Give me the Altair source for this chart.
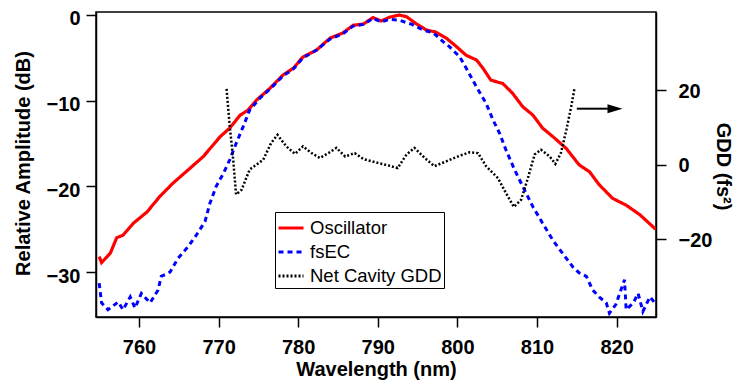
import altair as alt
import pandas as pd

# ---- data ----
osc_wl = [755.0, 755.3, 756.4, 757.2, 758.0, 759.3, 761.0, 762.6, 764.3, 766.4,
          768.1, 770.2, 771.4, 772.7, 773.7, 774.8, 776.4, 778.1, 779.4, 780.6,
          782.3, 784.0, 785.6, 786.9, 788.2, 789.4, 790.4, 791.5, 792.7, 793.6,
          794.8, 796.1, 797.3, 798.6, 799.9, 801.1, 802.4, 803.2, 804.2, 805.7,
          806.9, 808.2, 809.5, 810.7, 812.0, 813.7, 815.3, 816.6, 817.8, 819.5,
          821.2, 822.9, 824.9]
osc_db = [-28.2, -28.9, -27.8, -26.0, -25.7, -24.3, -23.0, -21.2, -19.6, -17.9,
          -16.5, -14.2, -13.2, -11.7, -11.1, -9.9, -8.6, -7.0, -6.2, -4.9,
          -4.1, -2.7, -2.1, -1.2, -1.05, -0.3, -0.7, -0.25, 0.0, -0.2,
          -1.0, -1.75, -2.0, -2.7, -3.7, -4.7, -5.25, -6.2, -7.6, -8.0,
          -9.1, -10.7, -11.7, -13.2, -14.2, -15.6, -17.5, -18.3, -19.8, -21.4,
          -22.2, -23.3, -25.0]

fsec_wl = [755.0, 755.3, 756.1, 757.4, 758.0, 758.9, 759.5, 760.3, 761.4, 762.4,
           762.8, 763.9, 764.9, 766.2, 767.2, 768.3, 768.9, 769.7, 770.6, 771.4,
           772.2, 773.1, 773.9, 775.2, 776.4, 778.1, 779.4, 780.6, 782.3, 784.0,
           785.6, 786.9, 788.2, 789.4, 790.4, 791.5, 792.7, 794.3, 795.7, 797.0,
           798.2, 799.0, 800.3, 801.1, 802.4, 803.6, 804.5, 805.3, 806.1, 807.2,
           808.2, 809.5, 810.7, 812.0, 813.2, 814.5, 815.3, 816.2, 817.0, 817.8,
           818.7, 819.1, 819.9, 821.0, 821.2, 822.1, 822.7, 823.3, 824.2, 824.8]
fsec_db = [-31.3, -33.6, -34.4, -33.5, -34.4, -32.9, -34.2, -32.5, -33.6, -32.1,
           -30.5, -30.0, -28.4, -27.0, -25.7, -24.1, -22.0, -20.0, -18.5, -16.9,
           -15.0, -13.0, -11.1, -9.7, -8.7, -7.1, -6.3, -5.0, -4.1, -2.8,
           -2.2, -1.3, -1.1, -0.4, -0.8, -0.5, -0.6, -1.1, -1.75, -2.1,
           -3.1, -3.7, -4.9, -6.2, -8.4, -10.3, -12.3, -13.8, -15.75, -18.1,
           -20.0, -22.4, -24.3, -26.3, -27.8, -29.4, -30.1, -30.5, -32.1, -32.9,
           -33.6, -34.8, -33.8, -30.9, -34.4, -33.6, -32.5, -34.6, -32.9, -33.6]

gdd_wl = [771.0, 771.4, 771.8, 772.2, 772.9, 773.9, 775.6, 776.6, 777.4, 778.5,
          779.6, 780.6, 781.7, 782.7, 783.8, 784.8, 785.9, 787.1, 788.2, 789.8,
          791.5, 792.5, 793.6, 794.6, 795.9, 797.1, 798.6, 800.3, 801.5, 802.6,
          803.6, 805.1, 806.1, 807.1, 808.0, 808.8, 809.7, 810.5, 811.6, 812.3,
          813.0, 813.7, 814.3, 814.7]
gdd_fs2 = [20.3, 10.3, 2.2, -8.0, -6.7, -1.3, 1.3, 5.8, 8.0, 4.9,
           2.9, 4.9, 3.1, 1.8, 3.1, 4.5, 2.2, 3.1, 1.5, 0.6,
           -0.3, -0.9, 2.7, 4.5, 1.8, -0.4, 0.9, 2.4, 3.3, 3.1,
           -0.4, -3.6, -7.6, -11.3, -9.4, -4.0, 2.7, 4.0, 2.2, 0.2,
           3.1, 9.4, 15.6, 20.3]

series = ["Oscillator", "fsEC", "Net Cavity GDD"]
series_colors = ["#ff0000", "#0000ff", "#000000"]
series_dash = [[1, 0], [5, 4], [2, 2]]

x_ticks = [760, 770, 780, 790, 800, 810, 820]
left_ticks = [0, -10, -20, -30]
right_ticks = [20, 0, -20]

arrow_line_wl = [815.0, 818.9]
arrow_head_wl = [819.8]
arrow_gdd = 15.0

# ---- tables ----
osc_df = pd.DataFrame({"wl": osc_wl, "val": osc_db, "series": series[0]})
fsec_df = pd.DataFrame({"wl": fsec_wl, "val": fsec_db, "series": series[1]})
gdd_df = pd.DataFrame({"wl": gdd_wl, "val": gdd_fs2, "series": series[2]})
arrow_df = pd.DataFrame({"x1": [arrow_line_wl[0]], "x2": [arrow_line_wl[1]], "y": [arrow_gdd]})
head_df = pd.DataFrame({"x": arrow_head_wl, "y": [arrow_gdd]})

FONT = "Liberation Sans"

x_scale = alt.Scale(domain=[754.6, 824.95], nice=False, zero=False)
left_scale = alt.Scale(domain=[-35.25, 0.35], nice=False, zero=False)
right_scale = alt.Scale(domain=[-40.8, 40.9], nice=False, zero=False)

legend_opts = dict(
    title=None, orient="none", legendX=179, legendY=200,
    fillColor="white", strokeColor="black", padding=2,
    labelFont=FONT, labelFontSize=18.5, labelColor="black",
    symbolType="stroke", symbolSize=625, symbolStrokeWidth=3,
    rowPadding=-9, labelOffset=5,
)
color_enc = alt.Color(
    "series:N",
    scale=alt.Scale(domain=series, range=series_colors),
    legend=alt.Legend(**legend_opts),
)
dash_enc = alt.StrokeDash(
    "series:N",
    scale=alt.Scale(domain=series, range=series_dash),
    legend=alt.Legend(**legend_opts),
)

x_axis = alt.Axis(
    title="Wavelength (nm)", values=x_ticks, titleX=280, titleY=58,
    titleBaseline="alphabetic", titleAlign="center",
)
x_enc = alt.X("wl:Q", scale=x_scale, axis=x_axis)

left_axis = alt.Axis(
    title="Relative Amplitude (dB)", values=left_ticks, orient="left",
    titleX=-73, titleY=151, titleAngle=-90, titleBaseline="middle",
    titleAlign="center", labelPadding=6, labelOffset=4,
)
right_axis = alt.Axis(
    title="GDD (fs²)", values=right_ticks, orient="right",
    titleX=66, titleY=154, titleAngle=90, titleBaseline="middle",
    titleAlign="center", labelPadding=12, labelOffset=1,
)

osc_line = alt.Chart(osc_df).mark_line(strokeWidth=3.2, clip=True).encode(
    x=x_enc, y=alt.Y("val:Q", scale=left_scale, axis=left_axis),
    color=color_enc, strokeDash=dash_enc,
)
fsec_line = alt.Chart(fsec_df).mark_line(strokeWidth=3, clip=True).encode(
    x=x_enc, y=alt.Y("val:Q", scale=left_scale, axis=left_axis),
    color=color_enc, strokeDash=dash_enc,
)
left_layer = alt.layer(osc_line, fsec_line)

gdd_line = alt.Chart(gdd_df).mark_line(strokeWidth=2.5, clip=True).encode(
    x=x_enc, y=alt.Y("val:Q", scale=right_scale, axis=right_axis),
    color=color_enc, strokeDash=dash_enc,
)
arrow_line = alt.Chart(arrow_df).mark_rule(color="black", strokeWidth=2).encode(
    x=alt.X("x1:Q", scale=x_scale), x2="x2:Q",
    y=alt.Y("y:Q", scale=right_scale, axis=right_axis),
)
arrow_head = alt.Chart(head_df).mark_point(
    shape="M -1 -0.6 L 1 0 L -1 0.6 Z", size=225, filled=True,
    color="black", opacity=1, strokeWidth=0,
).encode(
    x=alt.X("x:Q", scale=x_scale),
    y=alt.Y("y:Q", scale=right_scale, axis=right_axis),
)
right_layer = alt.layer(gdd_line, arrow_line, arrow_head)

chart = alt.layer(left_layer, right_layer).resolve_scale(
    y="independent"
).properties(
    width=560, height=305,
    autosize=alt.AutoSizeParams(type="none"),
    padding={"left": 88, "top": 4, "right": 78, "bottom": 63},
).configure_view(
    stroke="black", strokeWidth=1.5,
).configure_axis(
    grid=False, domainColor="black", domainWidth=1.5,
    tickColor="black", tickWidth=1.5, tickSize=10,
    labelFont=FONT, labelFontSize=20, labelFontWeight="bold", labelColor="black",
    titleFont=FONT, titleFontSize=20, titleFontWeight="bold", titleColor="black",
    labelPadding=10,
)

chart.save("out.html", embed_options={"renderer": "svg", "actions": False})
